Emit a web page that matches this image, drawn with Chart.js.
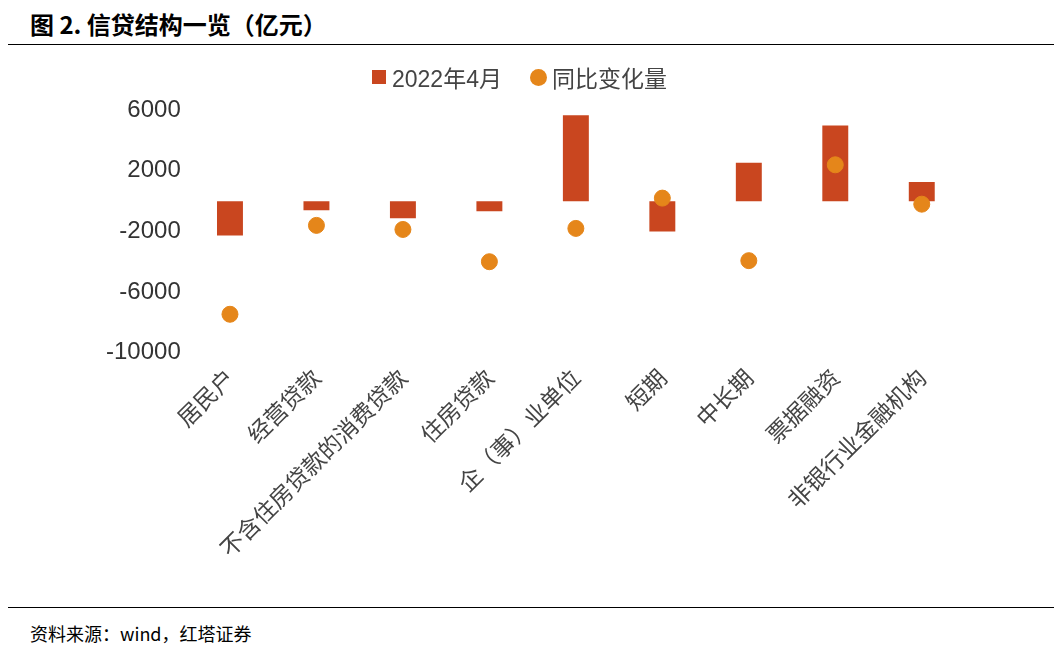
<!DOCTYPE html>
<html><head><meta charset="utf-8">
<script src="https://cdn.jsdelivr.net/npm/chart.js@4"></script>
<style>
body{margin:0;width:1060px;height:654px;background:#fff;font-family:"Liberation Sans","Noto Sans CJK SC",sans-serif;position:relative;overflow:hidden}
#title{position:absolute;left:30px;top:6px;font-size:24px;font-weight:bold;font-family:"Noto Sans CJK SC","Liberation Sans";}
#l1{position:absolute;left:8px;top:44px;width:1046px;border-top:1.5px solid #000}
#l2{position:absolute;left:8px;top:607px;width:1046px;border-top:1.5px solid #000}
#src{position:absolute;left:30px;top:620px;font-size:18px;font-family:"Noto Sans CJK SC"}
#wrap{position:absolute;left:0;top:50px;width:1060px;height:555px}
#leg{position:absolute;top:60px;left:372px;font-size:23px;color:#444;display:flex;align-items:center;z-index:2}
#leg .r{width:14px;height:14px;background:#C9461F;margin-right:6px}
#leg .c{width:17px;height:17px;border-radius:50%;background:#E5861A;margin:0 5px 0 28px}
</style></head><body>
<div id="title">图 2. 信贷结构一览（亿元）</div>
<div id="l1"></div><div id="l2"></div>
<div id="src">资料来源：wind，红塔证券</div>
<div id="leg"><span class="r"></span><span>2022年4月</span><span class="c"></span><span>同比变化量</span></div>
<div id="wrap"><canvas id="c"></canvas></div>
<script>
const categories=["居民户","经营贷款","不含住房贷款的消费贷款","住房贷款","企（事）业单位","短期","中长期","票据融资","非银行业金融机构"];
const apr2022=[-2270,-600,-1130,-670,5670,-2000,2530,5000,1270];
const yoyChange=[-7470,-1600,-1870,-4000,-1800,200,-3930,2400,-200];
new Chart(document.getElementById('c'),{
data:{labels:categories,datasets:[
{type:'scatter',label:'同比变化量',data:yoyChange,backgroundColor:'#E5861A',borderColor:'#E5861A',pointRadius:8,pointHoverRadius:8,order:0},
{type:'bar',label:'2022年4月',data:apr2022,backgroundColor:'#C9461F',barPercentage:0.3,categoryPercentage:1,order:1}
]},
options:{responsive:true,maintainAspectRatio:false,animation:false,
layout:{padding:{top:30,right:95,left:100,bottom:40}},
plugins:{legend:{display:false},tooltip:{enabled:false}},
scales:{x:{type:'category',offset:true,grid:{display:false},border:{display:false},ticks:{minRotation:45,maxRotation:45,font:{size:23,family:"Noto Sans CJK SC"},color:'#444'}},
y:{min:-10000,max:8000,ticks:{stepSize:2000,callback:v=>String(v),font:{size:24,family:"Liberation Sans"},color:'#333',padding:6},border:{display:false},
grid:{drawTicks:false,color:c=>c.tick.value===0?'#bbb':'transparent',lineWidth:1.5}}}}
});
</script></body></html>
